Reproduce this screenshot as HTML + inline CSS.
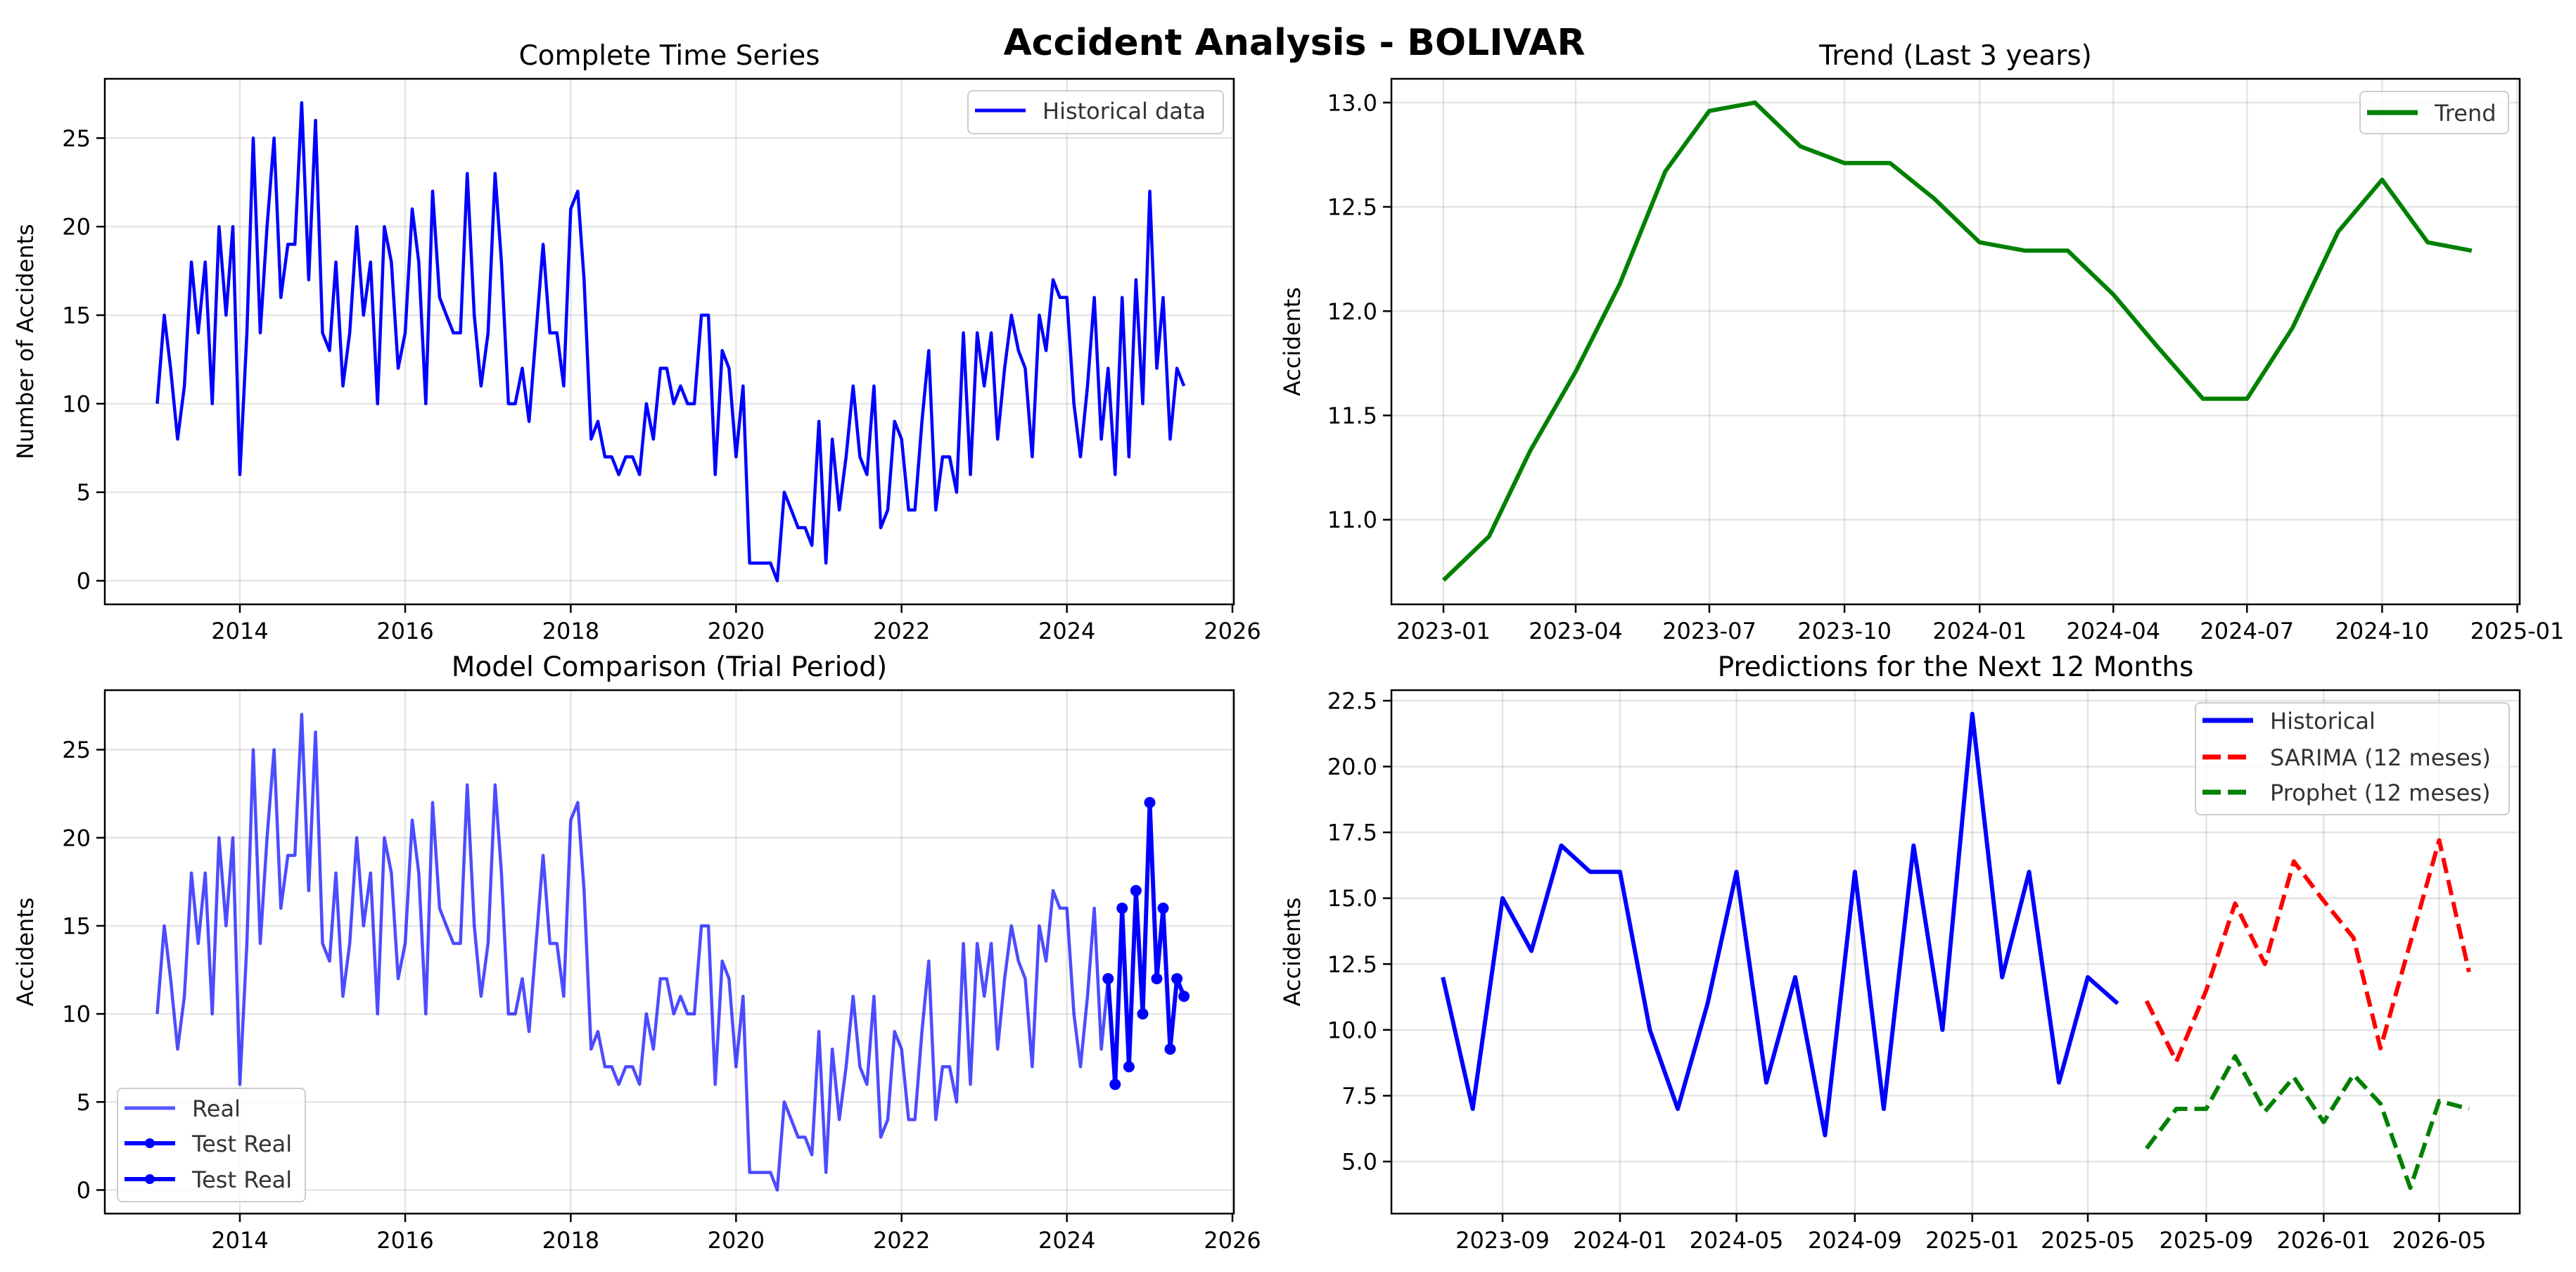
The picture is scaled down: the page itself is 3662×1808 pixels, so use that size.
<!DOCTYPE html>
<html><head><meta charset="utf-8"><style>
html,body{margin:0;padding:0;background:#fff;}
svg{display:block;font-family:"DejaVu Sans","Liberation Sans",sans-serif;}
</style></head><body>
<svg id="fig" width="3662" height="1808" viewBox="0 0 3662 1808" xmlns="http://www.w3.org/2000/svg">
<rect width="3662" height="1808" fill="#fff"/>
<text x="1840" y="78" font-size="52" font-weight="bold" text-anchor="middle">Accident Analysis - BOLIVAR</text>
</svg>
<script>
// ---- data ----
const seriesStart = [2013, 1];
const historical = [10,15,12,8,11,18,14,18,10,20,15,20,
 6,14,25,14,20,25,16,19,19,27,17,26,
 14,13,18,11,14,20,15,18,10,20,18,12,
 14,21,18,10,22,16,15,14,14,23,15,11,
 14,23,18,10,10,12,9,14,19,14,14,11,
 21,22,17,8,9,7,7,6,7,7,6,10,
 8,12,12,10,11,10,10,15,15,6,13,12,
 7,11,1,1,1,1,0,5,4,3,3,2,
 9,1,8,4,7,11,7,6,11,3,4,9,
 8,4,4,9,13,4,7,7,5,14,6,14,
 11,14,8,12,15,13,12,7,15,13,17,16,
 16,10,7,11,16,8,12,6,16,7,17,10,
 22,12,16,8,12,11];
const testCount = 12;
const trendStart = [2023, 1];
const trendValues = [10.71,10.92,11.33,11.71,12.13,12.67,12.96,13.0,12.79,12.71,12.71,12.54,
 12.33,12.29,12.29,12.08,11.83,11.58,11.58,11.92,12.38,12.63,12.33,12.29];
const recentCount = 24;
const forecastStart = [2025, 7];
const sarimaValues = [11.1,8.8,11.5,14.8,12.5,16.4,14.9,13.5,9.3,13.3,17.2,12.2];
const prophetValues = [5.5,7.0,7.0,9.0,6.9,8.2,6.5,8.3,7.2,4.0,7.3,7.0];
const yearTicks = [2014,2016,2018,2020,2022,2024,2026];
const countTicks = [0,5,10,15,20,25];
const trendYTicks = [11.0,11.5,12.0,12.5,13.0];
const trendXTicks = ["2023-01","2023-04","2023-07","2023-10","2024-01","2024-04","2024-07","2024-10","2025-01"];
const predYTicks = [5.0,7.5,10.0,12.5,15.0,17.5,20.0,22.5];
const predXTicks = ["2023-09","2024-01","2024-05","2024-09","2025-01","2025-05","2025-09","2026-01","2026-05"];

const NS="http://www.w3.org/2000/svg";
const svg=document.getElementById('fig');
function mk(tag,attrs,parent){const e=document.createElementNS(NS,tag);for(const k in attrs)e.setAttribute(k,attrs[k]);(parent||svg).appendChild(e);return e;}
function day(y,m){return Date.UTC(y,m-1,1)/86400000;}
function monthDate(start,i){const t=start[1]-1+i;return day(start[0]+Math.floor(t/12),t%12+1);}
function parseYM(s){const p=s.split('-');return day(+p[0],+p[1]);}

function makeAxes(name,L,R,T,B,xs,ys,xticks,xlabels,yticks,ylabels,title,ylabel,ylabX){
  const g=mk('g',{});
  
  
  xticks.forEach((v,i)=>{const x=xs(v);
    const gl=mk('line',{x1:x,x2:x,y1:T,y2:B,stroke:'#000','stroke-opacity':0.1,'stroke-width':2.5},g);
    
    
    mk('line',{x1:x,x2:x,y1:B,y2:B+12,stroke:'#000','stroke-width':2.5},g);
    const t=mk('text',{x:x,y:B+49,'font-size':32,'text-anchor':'middle'},g);t.textContent=xlabels[i];
    
    
  });
  yticks.forEach((v,i)=>{const y=ys(v);
    const gl=mk('line',{x1:L,x2:R,y1:y,y2:y,stroke:'#000','stroke-opacity':0.1,'stroke-width':2.5},g);
    
    
    mk('line',{x1:L-12,x2:L,y1:y,y2:y,stroke:'#000','stroke-width':2.5},g);
    const t=mk('text',{x:L-20,y:y+11.5,'font-size':32,'text-anchor':'end'},g);t.textContent=ylabels[i];
    
    
  });
  const tt=mk('text',{x:(L+R)/2,y:T-20,'font-size':39,'text-anchor':'middle'},g);tt.textContent=title;
  
  
  if(ylabel){const yl=mk('text',{x:ylabX,y:(T+B)/2,'font-size':32,'text-anchor':'middle',transform:`rotate(-90 ${ylabX} ${(T+B)/2})`},g);yl.textContent=ylabel;
    
    }
  return g;
}
function frame(L,R,T,B){const r=mk('rect',{x:L,y:T,width:R-L,height:B-T,fill:'none',stroke:'#000','stroke-width':2.5});
  
  }
function line(pts,attrs,name){const p=mk('polyline',Object.assign({points:pts.map(q=>q.join(',')).join(' '),fill:'none','stroke-linejoin':'round'},attrs));
  
  return p;}
function legend(x,y,w,h,entries,name){
  const g=mk('g',{});
  
  
  mk('rect',{x:x,y:y,width:w,height:h,rx:7,fill:'#fff','fill-opacity':0.8,stroke:'#ccc','stroke-width':2},g);
  entries.forEach(e=>{
    const l=mk('line',{x1:x+10,x2:x+82,y1:e.cy,y2:e.cy,stroke:e.color,'stroke-width':e.w,'stroke-dasharray':e.dash||'none'},g);
    
    
    if(e.marker){const c=mk('circle',{cx:x+46,cy:e.cy,r:7,fill:e.color},g);
      
      }
    const t=mk('text',{x:x+106,y:e.cy+12,'font-size':32,fill:'#333'},g);t.textContent=e.label;
    
    
  });
}

// ---- top-left ----
(function(){
  const L=149,R=1754,T=112,B=859;
  const d0=day(2014,1),d1=day(2026,1);
  const xs=d=>341+(d-d0)*(1752-341)/(d1-d0);
  const ys=v=>825.5+(196.3-825.5)*v/25;
  makeAxes('complete-series-axes',L,R,T,B,xs,ys,yearTicks.map(y=>day(y,1)),yearTicks.map(String),countTicks,countTicks.map(String),'Complete Time Series','Number of Accidents',47);
  line(historical.map((v,i)=>[xs(monthDate(seriesStart,i)),ys(v)]),{stroke:'#0000ff','stroke-width':4.5},'historical-line');
  frame(L,R,T,B);
  legend(1376,129,363,61,[{cy:157,color:'#0000ff',w:5,label:'Historical data'}],'legend-historical');
})();

// ---- top-right ----
(function(){
  const L=1978,R=3582,T=112,B=859;
  const d0=day(2023,1),d1=day(2025,1);
  const xs=d=>2052+(d-d0)*(3578.5-2052)/(d1-d0);
  const ys=v=>738.7+(145.8-738.7)*(v-11)/2;
  makeAxes('trend-axes',L,R,T,B,xs,ys,trendXTicks.map(parseYM),trendXTicks,trendYTicks,trendYTicks.map(v=>v.toFixed(1)),'Trend (Last 3 years)','Accidents',1848);
  line(trendValues.map((v,i)=>[xs(monthDate(trendStart,i)),ys(v)]),{stroke:'#008000','stroke-width':6},'trend-line');
  frame(L,R,T,B);
  legend(3355,130,211,60,[{cy:160,color:'#008000',w:7,label:'Trend'}],'legend-trend');
})();

// ---- bottom-left ----
(function(){
  const L=149,R=1754,T=981,B=1725;
  const d0=day(2014,1),d1=day(2026,1);
  const xs=d=>341+(d-d0)*(1752-341)/(d1-d0);
  const ys=v=>1691.5+(1065.6-1691.5)*v/25;
  makeAxes('model-comparison-axes',L,R,T,B,xs,ys,yearTicks.map(y=>day(y,1)),yearTicks.map(String),countTicks,countTicks.map(String),'Model Comparison (Trial Period)','Accidents',47);
  line(historical.map((v,i)=>[xs(monthDate(seriesStart,i)),ys(v)]),{stroke:'#0000ff','stroke-opacity':0.7,'stroke-width':4.5},'real-line');
  const off=historical.length-testCount;
  const tp=historical.slice(off).map((v,i)=>[xs(monthDate(seriesStart,off+i)),ys(v)]);
  line(tp,{stroke:'#0000ff','stroke-width':6},'test-real-line');
  tp.forEach(p=>{const c=mk('circle',{cx:p[0],cy:p[1],r:8,fill:'#0000ff'});
    
    });
  frame(L,R,T,B);
  legend(167,1547,267,161,[{cy:1575,color:'#5555ff',w:5,label:'Real'},{cy:1625,color:'#0000ff',w:6,marker:true,label:'Test Real'},{cy:1676,color:'#0000ff',w:6,marker:true,label:'Test Real'}],'legend-model-comparison');
})();

// ---- bottom-right ----
(function(){
  const L=1978,R=3582,T=981,B=1725;
  const d0=day(2023,9),d1=day(2026,5);
  const xs=d=>2136+(d-d0)*(3467.5-2136)/(d1-d0);
  const ys=v=>1651+(996-1651)*(v-5)/17.5;
  makeAxes('predictions-axes',L,R,T,B,xs,ys,predXTicks.map(parseYM),predXTicks,predYTicks,predYTicks.map(v=>v.toFixed(1)),'Predictions for the Next 12 Months','Accidents',1848);
  const off=historical.length-recentCount;
  line(historical.slice(off).map((v,i)=>[xs(monthDate(seriesStart,off+i)),ys(v)]),{stroke:'#0000ff','stroke-width':6},'historical-recent-line');
  line(sarimaValues.map((v,i)=>[xs(monthDate(forecastStart,i)),ys(v)]),{stroke:'#ff0000','stroke-width':6,'stroke-dasharray':'22 10'},'sarima-forecast-line');
  line(prophetValues.map((v,i)=>[xs(monthDate(forecastStart,i)),ys(v)]),{stroke:'#008000','stroke-width':6,'stroke-dasharray':'22 10'},'prophet-forecast-line');
  frame(L,R,T,B);
  legend(3121,999,446,159,[{cy:1024,color:'#0000ff',w:7,label:'Historical'},{cy:1076,color:'#ff0000',w:7,dash:'26 10',label:'SARIMA (12 meses)'},{cy:1126,color:'#008000',w:7,dash:'26 10',label:'Prophet (12 meses)'}],'legend-predictions');
})();
</script>
</body></html>
